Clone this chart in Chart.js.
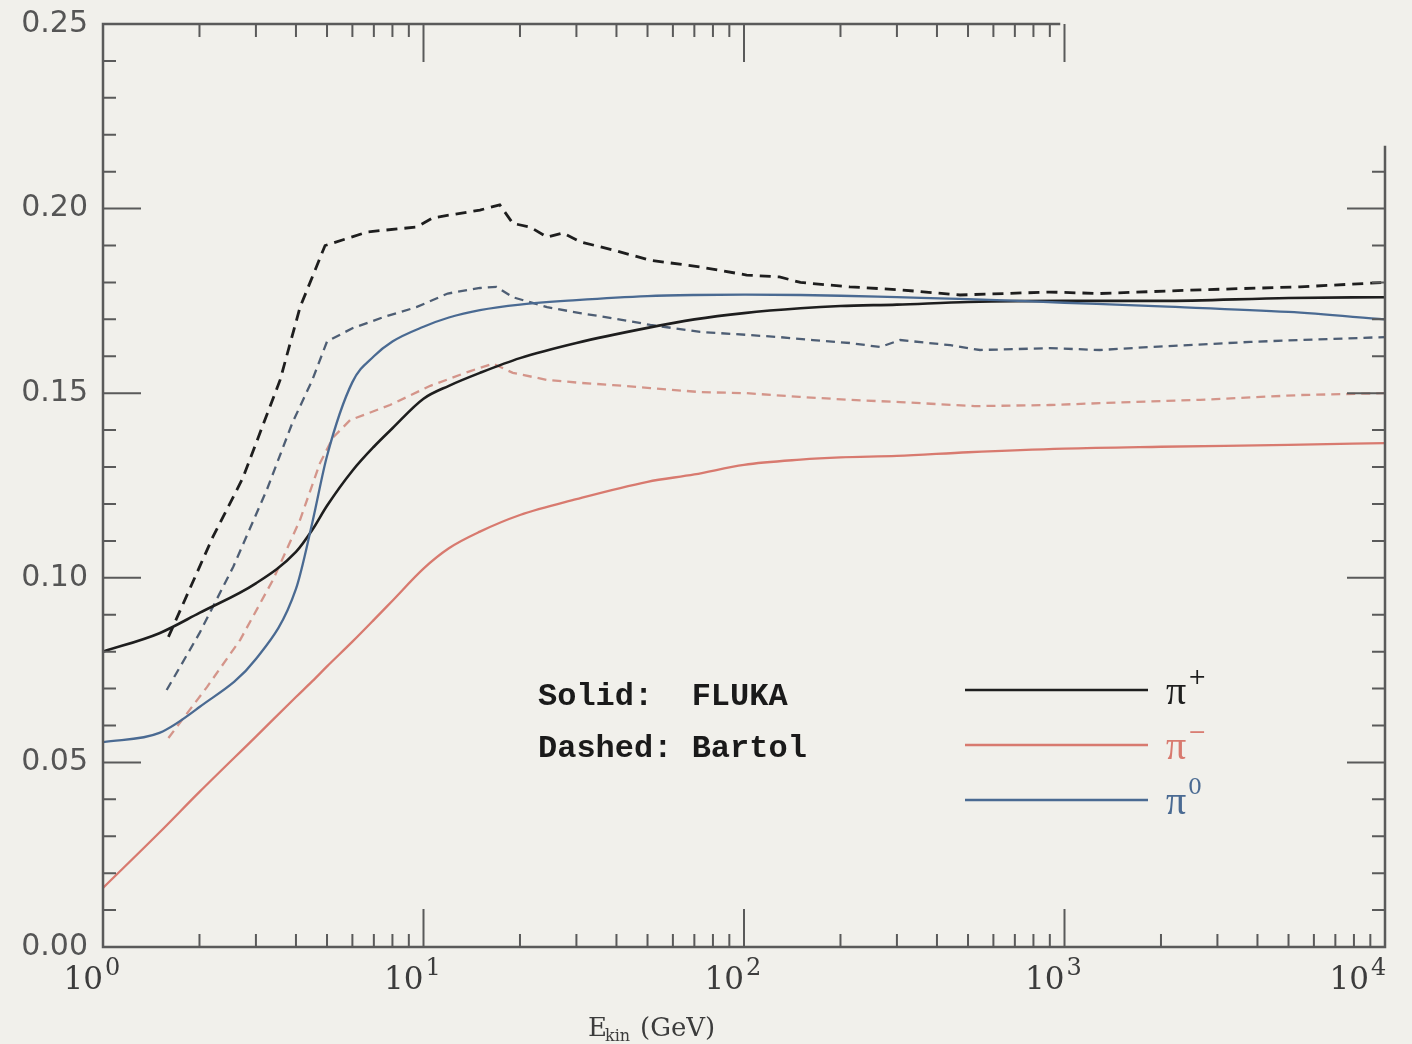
<!DOCTYPE html>
<html>
<head>
<meta charset="utf-8">
<title>Pion fractions: FLUKA vs Bartol</title>
<script src="https://cdn.jsdelivr.net/npm/chart.js@4.4.1/dist/chart.umd.min.js"></script>
<style>
    html, body { margin: 0; padding: 0; background: #f1f0eb; }
    canvas { display: block; }
</style>
</head>
<body>
<canvas id="myChart" width="1412" height="1044"></canvas>
<script>
// FLUKA (solid lines), common energy grid in GeV
const flukaEnergy = [1, 1.5, 2, 3, 4, 4.5, 5, 6, 7, 8, 10, 12, 15, 20, 30, 50, 70, 100, 150, 200, 300, 500, 1000, 2000, 5000, 10000];
const flukaPiPlus = [0.080, 0.085, 0.0905, 0.0985, 0.107, 0.113, 0.1195, 0.129, 0.1355, 0.1405, 0.1485, 0.152, 0.1555, 0.1595, 0.1636, 0.1677, 0.170, 0.1717, 0.173, 0.1736, 0.174, 0.1747, 0.175, 0.175, 0.1758, 0.176];
const flukaPiMinus = [0.016, 0.031, 0.042, 0.057, 0.0677, 0.072, 0.076, 0.0827, 0.0886, 0.0938, 0.1025, 0.108, 0.1125, 0.117, 0.1213, 0.126, 0.128, 0.1306, 0.132, 0.1326, 0.133, 0.134, 0.135, 0.1355, 0.136, 0.1365];
const flukaPiZero = [0.0555, 0.058, 0.065, 0.078, 0.097, 0.115, 0.133, 0.153, 0.160, 0.164, 0.168, 0.1705, 0.1725, 0.174, 0.1752, 0.1763, 0.1766, 0.1767, 0.1766, 0.1764, 0.176, 0.1755, 0.1745, 0.1735, 0.172, 0.170];

// Bartol (dashed lines), each read on its own energies
const bartolPiPlusE = [1.6, 2.2, 2.73, 3.57, 4.12, 4.93, 6.7, 9.5, 10.7, 15, 17.3, 19, 21.5, 24.3, 27.2, 30.8, 39, 51, 73, 102, 129, 150, 214, 307, 472, 900, 1290, 2650, 5430, 10000];
const bartolPiPlus = [0.084, 0.111, 0.127, 0.1536, 0.1733, 0.190, 0.1937, 0.195, 0.1975, 0.1996, 0.201, 0.196, 0.195, 0.1923, 0.1934, 0.191, 0.1888, 0.186, 0.1842, 0.182, 0.1815, 0.180, 0.1788, 0.178, 0.1766, 0.1774, 0.177, 0.178, 0.1788, 0.180];

const bartolPiMinusE = [1.6, 2.11, 2.68, 3.39, 4.12, 4.75, 5.22, 5.9, 7.86, 10.5, 14, 16.5, 19, 24.3, 30.8, 39, 51, 73, 102, 149, 214, 307, 525, 900, 1290, 2650, 5430, 10000];
const bartolPiMinus = [0.0566, 0.0704, 0.0832, 0.0994, 0.1157, 0.131, 0.138, 0.1427, 0.1468, 0.152, 0.156, 0.158, 0.1555, 0.1536, 0.1528, 0.1522, 0.1514, 0.1503, 0.150, 0.149, 0.1482, 0.1476, 0.1465, 0.1468, 0.1473, 0.1482, 0.1495, 0.150];

const bartolPiZeroE = [1.58, 2.0, 2.55, 3.25, 3.9, 4.5, 5.0, 6.0, 7.5, 9.5, 11.9, 15, 16.9, 19, 24.3, 30.8, 39, 51, 73, 102, 129, 164, 214, 266, 307, 440, 545, 900, 1290, 1850, 3800, 5430, 10000];
const bartolPiZero = [0.0696, 0.085, 0.103, 0.124, 0.142, 0.1536, 0.164, 0.1676, 0.1706, 0.1733, 0.177, 0.1785, 0.1788, 0.176, 0.1733, 0.1717, 0.1703, 0.1685, 0.1666, 0.1658, 0.1652, 0.1644, 0.1636, 0.1625, 0.1644, 0.163, 0.1617, 0.1622, 0.1617, 0.1625, 0.1639, 0.1644, 0.1652];

// axis ticks
const yMajorTicks = [0, 0.05, 0.10, 0.15, 0.20, 0.25];
const yTickLabels = ["0.00", "0.05", "0.10", "0.15", "0.20", "0.25"];
const xDecades = [1, 10, 100, 1000, 10000];
const xTickExponents = ["0", "1", "2", "3", "4"];

const colBlack = "#1e1e1e";
const colRed = "#d87a6f";
const colBlue = "#4a6a92";

function toPoints(xs, ys) {
    return xs.map((v, i) => ({x: v, y: ys[i]}));
}

// frame with inward ticks on all four sides, plus tick labels
const frameTicks = {
    id: "frameTicks",
    afterDraw(chart) {
        const {ctx, chartArea: a, scales: {x, y}} = chart;
        // the scanned frame breaks off at the top right corner
        const topEnd = x.getPixelForValue(970);
        const rightTop = y.getPixelForValue(0.217);
        ctx.save();
        ctx.strokeStyle = "#5a5a5a";
        ctx.lineWidth = 2.5;
        ctx.beginPath();
        ctx.moveTo(topEnd, a.top);
        ctx.lineTo(a.left, a.top);
        ctx.lineTo(a.left, a.bottom);
        ctx.lineTo(a.right, a.bottom);
        ctx.lineTo(a.right, rightTop);
        ctx.stroke();

        ctx.lineWidth = 2;
        ctx.beginPath();
        // y ticks every 0.01
        for (let k = 0; k <= 25; k++) {
            const v = k / 100;
            const py = y.getPixelForValue(v);
            const len = (k % 5 === 0) ? 38 : 13;
            if (k > 0 && k < 25) {
                ctx.moveTo(a.left, py);
                ctx.lineTo(a.left + len, py);
            }
            if (py > rightTop && k > 0) {
                ctx.moveTo(a.right, py);
                ctx.lineTo(a.right - len, py);
            }
        }
        // x ticks 1..9 per decade
        for (let d = 0; d < xDecades.length - 1; d++) {
            for (let m = 1; m <= 9; m++) {
                const v = xDecades[d] * m;
                if (v <= 1) continue;
                const px = x.getPixelForValue(v);
                const len = (m === 1) ? 38 : 13;
                ctx.moveTo(px, a.bottom);
                ctx.lineTo(px, a.bottom - len);
                if (px < topEnd) {
                    ctx.moveTo(px, a.top);
                    ctx.lineTo(px, a.top + len);
                }
            }
        }
        const px10 = x.getPixelForValue(1000);
        ctx.moveTo(px10, a.top);
        ctx.lineTo(px10, a.top + 38);
        ctx.stroke();

        // y tick labels
        ctx.fillStyle = "#555555";
        ctx.font = '30px "DejaVu Sans"';
        ctx.textAlign = "right";
        ctx.textBaseline = "middle";
        yMajorTicks.forEach((v, i) => {
            ctx.fillText(yTickLabels[i], a.left - 15, y.getPixelForValue(v));
        });

        // x tick labels 10^n
        ctx.fillStyle = "#3c3c3c";
        ctx.textBaseline = "alphabetic";
        xDecades.forEach((v, i) => {
            let px = x.getPixelForValue(v);
            if (i === xDecades.length - 1) px -= 16;
            ctx.font = '31px "DejaVu Serif"';
            ctx.textAlign = "right";
            ctx.fillText("10", px, a.bottom + 42);
            ctx.font = '24px "DejaVu Serif"';
            ctx.textAlign = "left";
            ctx.fillText(xTickExponents[i], px + 2, a.bottom + 28);
        });

        // x axis title E_kin (GeV)
        ctx.fillStyle = "#3c3c3c";
        ctx.textAlign = "left";
        ctx.font = '26px "DejaVu Serif"';
        ctx.fillText("E", 588, 1036);
        ctx.font = '16px "DejaVu Serif"';
        ctx.fillText("kin", 605, 1041);
        ctx.font = '26px "DejaVu Serif"';
        ctx.fillText("(GeV)", 640, 1036);

        // legend
        ctx.fillStyle = "#1a1a1a";
        ctx.font = 'bold 32px "Liberation Mono"';
        ctx.fillText("Solid:  FLUKA", 538, 705);
        ctx.fillText("Dashed: Bartol", 538, 757);

        const legendRows = [
            {color: colBlack, y: 690, sup: "+"},
            {color: colRed, y: 745, sup: "\u2212"},
            {color: colBlue, y: 800, sup: "0"}
        ];
        legendRows.forEach(r => {
            ctx.strokeStyle = r.color;
            ctx.lineWidth = 2.5;
            ctx.beginPath();
            ctx.moveTo(965, r.y);
            ctx.lineTo(1148, r.y);
            ctx.stroke();
            ctx.fillStyle = r.color;
            ctx.font = '40px "Liberation Serif"';
            ctx.fillText("\u03c0", 1166, r.y + 14);
            ctx.font = '22px "DejaVu Serif"';
            ctx.fillText(r.sup, 1188, r.y - 6);
        });
        ctx.restore();
    }
};

const ctx = document.getElementById("myChart").getContext("2d");
const chart = new Chart(ctx, {
    type: "line",
    data: {
        datasets: [
            {data: toPoints(flukaEnergy, flukaPiMinus), borderColor: colRed, borderWidth: 2.3, cubicInterpolationMode: "monotone"},
            {data: toPoints(flukaEnergy, flukaPiZero), borderColor: colBlue, borderWidth: 2.3, cubicInterpolationMode: "monotone"},
            {data: toPoints(flukaEnergy, flukaPiPlus), borderColor: colBlack, borderWidth: 2.6, cubicInterpolationMode: "monotone"},
            {data: toPoints(bartolPiMinusE, bartolPiMinus), borderColor: "#d4958a", borderWidth: 2.3, borderDash: [9, 6]},
            {data: toPoints(bartolPiZeroE, bartolPiZero), borderColor: "#4e5e74", borderWidth: 2.3, borderDash: [9, 6]},
            {data: toPoints(bartolPiPlusE, bartolPiPlus), borderColor: colBlack, borderWidth: 2.8, borderDash: [11, 7]}
        ]
    },
    options: {
        responsive: false,
        animation: false,
        devicePixelRatio: 1,
        layout: {padding: {left: 103, top: 24, right: 27, bottom: 97}},
        elements: {point: {radius: 0}, line: {tension: 0}},
        scales: {
            x: {type: "logarithmic", min: 1, max: 10000, display: false},
            y: {type: "linear", min: 0, max: 0.25, display: false}
        },
        plugins: {
            legend: {display: false},
            tooltip: {enabled: false}
        }
    },
    plugins: [frameTicks]
});
</script>
</body>
</html>
